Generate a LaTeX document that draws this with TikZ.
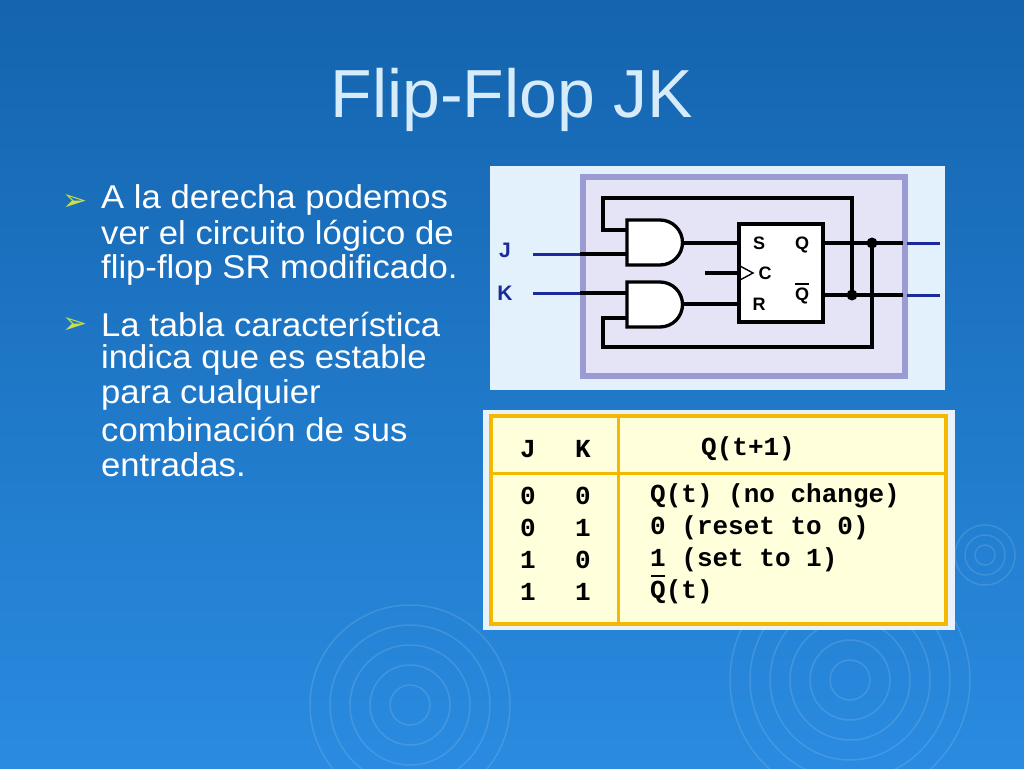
\documentclass[tikz,border=0pt]{standalone}
\usepackage{fontspec}
\setmainfont{Liberation Sans}
\newfontfamily\monof{Liberation Mono}
\newfontfamily\symf{DejaVu Sans}
\definecolor{bgtop}{HTML}{1464AE}
\definecolor{bgbot}{HTML}{2A8BE0}
\definecolor{titlec}{HTML}{D6ECFA}
\definecolor{panel}{HTML}{E2F1FB}
\definecolor{inner}{HTML}{E4E4F6}
\definecolor{purp}{HTML}{9C9AD2}
\definecolor{navy}{HTML}{1A2A9A}
\definecolor{ybord}{HTML}{F5B800}
\definecolor{yfill}{HTML}{FFFFDC}
\definecolor{bullet}{HTML}{C8E04A}
\tikzset{wire/.style={line width=3.3pt,black},bwire/.style={line width=3pt,navy},
 btxt/.style={anchor=west,text=white,font=\fontsize{33}{34}\selectfont,inner sep=0pt,xscale=1.05},
 ttxt/.style={font=\monof\bfseries\fontsize{26}{27}\selectfont,inner sep=0pt},
 lab/.style={font=\bfseries\fontsize{18}{18}\selectfont,inner sep=0pt},
 ring/.style={draw=white,opacity=0.12,line width=1.5pt}}
\begin{document}
\begin{tikzpicture}[x=1pt,y=-1pt]
\shade[top color=bgtop,bottom color=bgbot] (0,0) rectangle (1024,768);
\useasboundingbox (0,0) rectangle (1024,768);
\foreach \r in {20,40,60,80,100}{\draw[ring] (410,705) circle (\r);}
\foreach \r in {20,40,60,80,100,120}{\draw[ring] (850,680) circle (\r);}
\foreach \r in {10,20,30}{\draw[ring] (985,555) circle (\r);}
\node[text=titlec,font=\fontsize{68}{70}\selectfont] (title) at (512,100) {Flip-Flop JK};
% bullets
\node[text=bullet,font=\symf\fontsize{30}{30}\selectfont] (b1) at (75,202) {➢};
\node[text=bullet,font=\symf\fontsize{30}{30}\selectfont] (b2) at (75,325) {➢};
\node[btxt] (t1) at (101,200) {A la derecha podemos};
\node[btxt] (t2) at (101,236) {ver el circuito lógico de};
\node[btxt] (t3) at (101,270) {flip-flop SR modificado.};
\node[btxt] (t4) at (101,325) {La tabla característica};
\node[btxt] (t5) at (101,360) {indica que es estable};
\node[btxt] (t6) at (101,395) {para cualquier};
\node[btxt] (t7) at (101,430) {combinación de sus};
\node[btxt] (t8) at (101,465) {entradas.};
% circuit panel
\fill[panel] (490,166) rectangle (945,390);
\draw[purp,line width=6pt,fill=inner] (583,177) rectangle (905,376);
% AND gates
\draw[wire,fill=white] (627,220) -- (660,220) arc[start angle=90,end angle=-90,radius=22.5pt] -- (627,265) -- cycle;
\draw[wire,fill=white] (627,282) -- (660,282) arc[start angle=90,end angle=-90,radius=22.5pt] -- (627,327) -- cycle;
% SR box
\node[draw,wire,fill=white,minimum width=84pt,minimum height=98pt,inner sep=0pt] (sr) at (781,273) {};
\node[lab] (ls) at (759,243) {S};
\node[lab] (lc) at (765,273) {C};
\node[lab] (lr) at (759,304) {R};
\node[lab] (lq) at (802,245) {Q};
\node[lab] (lqb) at (802,296) {Q};
\draw[line width=1.4pt] (795,284) -- (809,284);
\draw[line width=1.4pt] (740,266) -- (753,273) -- (740,280);
\draw[wire] (705,273) -- (739,273);
\draw[wire] (684,243) -- (739,243);
\draw[wire] (684,304) -- (739,304);
% inputs
\node[text=navy,lab,font=\bfseries\fontsize{21}{21}\selectfont] (J) at (505,250) {J};
\node[text=navy,lab,font=\bfseries\fontsize{21}{21}\selectfont] (K) at (505,293) {K};
\draw[bwire] (533,254) -- (580,254); \draw[wire] (580,254) -- (627,254);
\draw[bwire] (533,293) -- (580,293); \draw[wire] (580,293) -- (627,293);
% outputs
\draw[wire] (823,243) -- (903,243); \draw[bwire] (907,243) -- (940,243);
\draw[wire] (823,295) -- (903,295); \draw[bwire] (907,295) -- (940,295);
% feedback
\draw[wire] (627,230) -- (603,230) -- (603,198) -- (852,198) -- (852,295);
\draw[wire] (627,318) -- (603,318) -- (603,347) -- (872,347) -- (872,243);
\fill (852,295) circle (5.5); \fill (872,243) circle (5.5);
% table
\fill[white,opacity=0.9] (483,410) rectangle (955,630);
\draw[ybord,line width=3.5pt,fill=yfill] (491,416) rectangle (946,624);
\draw[ybord,line width=3pt] (491,473) -- (946,473);
\draw[ybord,line width=3pt] (618,416) -- (618,624);
\node[ttxt] (hj) at (528,449) {J};
\node[ttxt] (hk) at (583,449) {K};
\node[ttxt] (hq) at (748,449) {Q(t+1)};
\foreach \y/\a/\b/\c in {496/0/0/{Q(t) (no change)},528/0/1/{0 (reset to 0)},560/1/0/{1 (set to 1)},592/1/1/{Q(t)}}{
 \node[ttxt] at (528,\y) {\a};
 \node[ttxt] at (583,\y) {\b};
 \node[ttxt,anchor=west] at (650,\y) {\c};}
\draw[line width=1.8pt] (651,576) -- (665,576);
\end{tikzpicture}
\end{document}
